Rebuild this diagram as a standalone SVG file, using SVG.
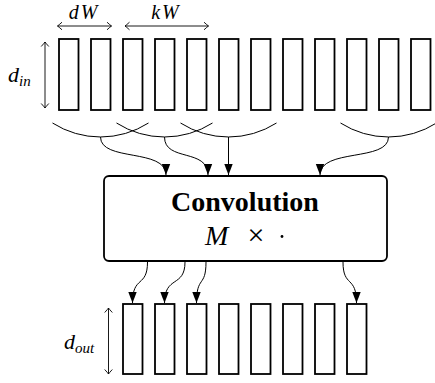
<svg xmlns="http://www.w3.org/2000/svg" width="435" height="383" viewBox="0 0 435 383">
<style>
.cell{fill:#fff;stroke:#000;stroke-width:1.8}
.box{fill:#fff;stroke:#000;stroke-width:1.8}
.conn{fill:none;stroke:#000;stroke-width:1}
.dim{fill:none;stroke:#000;stroke-width:0.9}
.math{font-family:"Liberation Serif","DejaVu Serif",serif;font-style:italic;fill:#000}
.title{font-family:"Liberation Serif","DejaVu Serif",serif;font-weight:bold;font-size:28px;fill:#000}
</style>
<defs>
<marker id="tri" markerUnits="userSpaceOnUse" markerWidth="12" markerHeight="12" viewBox="-11 -4.5 12 9" refX="0" refY="0" orient="auto">
<path d="M-11,-4.2 L0,0 L-11,4.2 Z" fill="#000"/>
</marker>
<marker id="to" markerUnits="userSpaceOnUse" markerWidth="10" markerHeight="10" viewBox="-6 -5 7 10" refX="0" refY="0" orient="auto-start-reverse">
<path d="M-4.5,-3.8 Q-1.2,-0.8 0,0 Q-1.2,0.8 -4.5,3.8" fill="none" stroke="#000" stroke-width="0.9"/>
</marker>
</defs>
<g id="input-cells">
<rect class="cell" x="59" y="39" width="19.5" height="71"/>
<rect class="cell" x="91" y="39" width="19.5" height="71"/>
<rect class="cell" x="123" y="39" width="19.5" height="71"/>
<rect class="cell" x="155" y="39" width="19.5" height="71"/>
<rect class="cell" x="187" y="39" width="19.5" height="71"/>
<rect class="cell" x="219" y="39" width="19.5" height="71"/>
<rect class="cell" x="251" y="39" width="19.5" height="71"/>
<rect class="cell" x="283" y="39" width="19.5" height="71"/>
<rect class="cell" x="315" y="39" width="19.5" height="71"/>
<rect class="cell" x="347" y="39" width="19.5" height="71"/>
<rect class="cell" x="379" y="39" width="19.5" height="71"/>
<rect class="cell" x="411" y="39" width="19.5" height="71"/>
</g>
<g id="dimensions">
<line class="dim" x1="57.5" y1="26" x2="111.5" y2="26" marker-start="url(#to)" marker-end="url(#to)"/>
<text class="math" x="84" y="19" font-size="20" letter-spacing="2" text-anchor="middle">dW</text>
<line class="dim" x1="125" y1="26" x2="208.5" y2="26" marker-start="url(#to)" marker-end="url(#to)"/>
<text class="math" x="166" y="19" font-size="20" letter-spacing="2" text-anchor="middle">kW</text>
<line class="dim" x1="45" y1="42" x2="45" y2="108" marker-start="url(#to)" marker-end="url(#to)"/>
<text class="math" x="8" y="82" font-size="22">d<tspan font-size="15" dy="4">in</tspan></text>
<line class="dim" x1="108.5" y1="308" x2="108.5" y2="374" marker-start="url(#to)" marker-end="url(#to)"/>
<text class="math" x="64" y="349" font-size="22">d<tspan font-size="15" dy="4">out</tspan></text>
</g>
<g id="kernels">
<path class="conn" d="M52.5,123 A89.3,89.3 0 0 0 148.5,123"/>
<path class="conn" d="M116.5,123 A89.3,89.3 0 0 0 212.5,123"/>
<path class="conn" d="M180.5,123 A89.3,89.3 0 0 0 276.5,123"/>
<path class="conn" d="M340.5,123 A89.3,89.3 0 0 0 436.5,123"/>
</g>
<g id="convolution">
<rect class="box" x="104" y="176" width="283" height="85" rx="5"/>
<text class="title" x="245" y="211" text-anchor="middle">Convolution</text>
<text class="math" x="205" y="245" font-size="28">M</text>
<text x="256" y="245" font-size="30" text-anchor="middle" font-family="Liberation Serif, DejaVu Serif, serif">×</text>
<circle cx="282" cy="236.5" r="1.4" fill="#000"/>
</g>
<g id="connectors">
<path class="conn" d="M100.5,137 C100.5,162 166,148 166,175" marker-end="url(#tri)"/>
<path class="conn" d="M164.5,137 C164.5,162 208,148 208,175" marker-end="url(#tri)"/>
<path class="conn" d="M228.5,137 L228.5,175" marker-end="url(#tri)"/>
<path class="conn" d="M388.5,137 C388.5,162 320,148 320,175" marker-end="url(#tri)"/>
<path class="conn" d="M147.5,262 C147.5,288 132.5,275 132.5,303" marker-end="url(#tri)"/>
<path class="conn" d="M185,262 C185,288 164.5,275 164.5,303" marker-end="url(#tri)"/>
<path class="conn" d="M206,262 C206,288 196.5,275 196.5,303" marker-end="url(#tri)"/>
<path class="conn" d="M343,262 C343,288 356.5,275 356.5,303" marker-end="url(#tri)"/>
</g>
<g id="output-cells">
<rect class="cell" x="123" y="304" width="19.5" height="70"/>
<rect class="cell" x="155" y="304" width="19.5" height="70"/>
<rect class="cell" x="187" y="304" width="19.5" height="70"/>
<rect class="cell" x="219" y="304" width="19.5" height="70"/>
<rect class="cell" x="251" y="304" width="19.5" height="70"/>
<rect class="cell" x="283" y="304" width="19.5" height="70"/>
<rect class="cell" x="315" y="304" width="19.5" height="70"/>
<rect class="cell" x="347" y="304" width="19.5" height="70"/>
</g>
</svg>
